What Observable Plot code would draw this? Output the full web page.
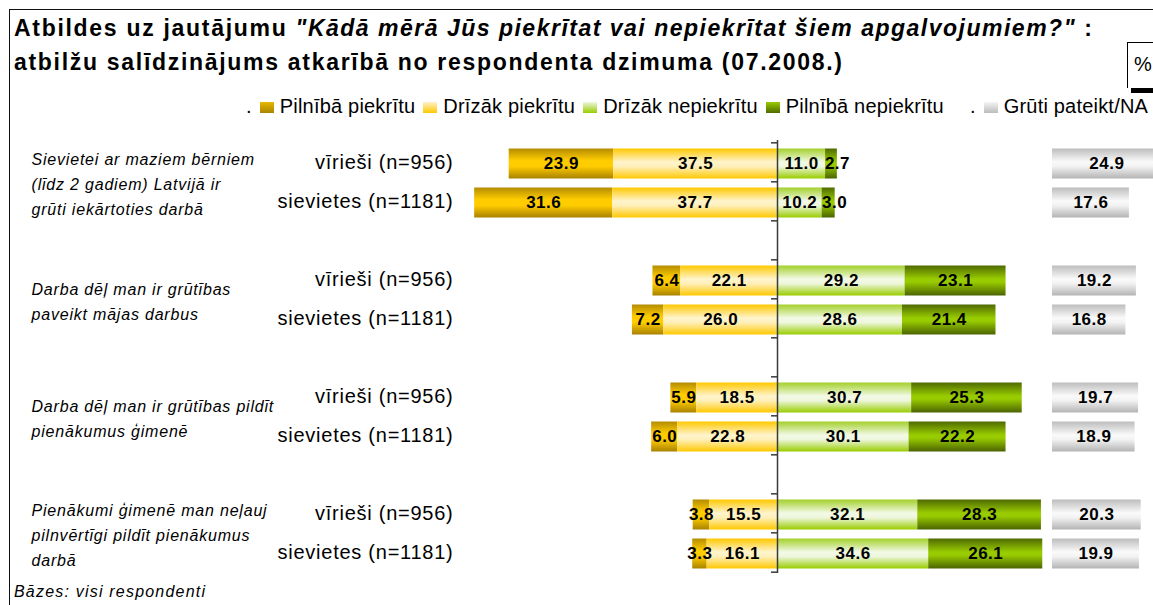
<!DOCTYPE html>
<html><head><meta charset="utf-8">
<script src="https://cdn.jsdelivr.net/npm/d3@7"></script>
<script src="https://cdn.jsdelivr.net/npm/@observablehq/plot@0.6"></script>
<style>
html,body{margin:0;padding:0;background:#fff;overflow:hidden;}
#wrap{position:relative;width:1153px;height:605px;overflow:hidden;background:#fff;font-family:"Liberation Sans",Arial,Helvetica,sans-serif;color:#000;}
#frame{position:absolute;left:9px;top:9px;width:1300px;height:700px;border-top:1.5px solid #111;border-left:1.5px solid #111;}
#title{position:absolute;left:14px;top:11px;font-size:23px;font-weight:bold;line-height:34px;letter-spacing:1.7px;white-space:nowrap;}
#title i{font-style:italic;letter-spacing:1.5px;}
#pct{position:absolute;left:1127px;top:42px;width:40px;height:46px;border-left:1px solid #000;border-top:1px solid #000;font-size:20px;line-height:42px;padding-left:6px;box-sizing:border-box;}
#pctshadow{position:absolute;left:1131px;top:88px;width:40px;height:5px;background:#000;}
#legend{position:absolute;left:246px;top:92px;height:28px;display:flex;align-items:center;font-size:20px;letter-spacing:0.2px;white-space:nowrap;}
#legend .sw{width:14px;height:11px;margin-top:3px;flex:none;}
#legend .dot{margin-right:8px;}
#legend .lab{margin-left:6px;margin-right:8px;}
#main{position:absolute;left:0;top:121px;width:1045px;}
#na{position:absolute;left:1045px;top:121px;width:130px;}
#main svg,#na svg{max-width:none;}
#foot{position:absolute;left:14px;top:583px;font-size:16px;font-style:italic;letter-spacing:1.2px;line-height:18px;white-space:nowrap;}
#defs{position:absolute;width:0;height:0;}
#main g[font-size="20"] text{letter-spacing:0.75px;}
#main g[font-style="italic"] text{letter-spacing:0.8px;}
g[font-weight="bold"] text{letter-spacing:0.5px;}
</style></head><body>
<div id="wrap">
  <div id="frame"></div>
  <div id="title"></div>
  <div id="pct">%</div><div id="pctshadow"></div>
  <div id="legend"></div>
  <div id="main"></div>
  <div id="na"></div>
  <div id="foot"></div>
</div>
<svg id="defs" width="0" height="0"><defs id="gdefs"></defs></svg>
<script>
// ---------- data ----------
const titleStart = "Atbildes uz jautājumu ";
const titleQuote = "\"Kādā mērā Jūs piekrītat vai nepiekrītat šiem apgalvojumiem?\"";
const titleEnd = " :";
const titleLine2 = "atbilžu salīdzinājums atkarībā no respondenta dzimuma (07.2008.)";
const footnote = "Bāzes: visi respondenti";
const unitLabel = "%";

const categories = ["Pilnībā piekrītu", "Drīzāk piekrītu", "Drīzāk nepiekrītu", "Pilnībā nepiekrītu"];
const naCategory = "Grūti pateikt/NA";

const statements = [
  "Sievietei ar maziem bērniem\n(līdz 2 gadiem) Latvijā ir\ngrūti iekārtoties darbā",
  "Darba dēļ man ir grūtības\npaveikt mājas darbus",
  "Darba dēļ man ir grūtības pildīt\npienākumus ģimenē",
  "Pienākumi ģimenē man neļauj\npilnvērtīgi pildīt pienākumus\ndarbā"
];
const respondentGroups = ["vīrieši (n=956)", "sievietes (n=1181)"];

// order: statement 1 (men, women), statement 2 (men, women), ...
const fullyAgree     = [23.9, 31.6,  6.4,  7.2,  5.9,  6.0,  3.8,  3.3];
const ratherAgree    = [37.5, 37.7, 22.1, 26.0, 18.5, 22.8, 15.5, 16.1];
const ratherDisagree = [11.0, 10.2, 29.2, 28.6, 30.7, 30.1, 32.1, 34.6];
const fullyDisagree  = [ 2.7,  3.0, 23.1, 21.4, 25.3, 22.2, 28.3, 26.1];
const hardToSay      = [24.9, 17.6, 19.2, 16.8, 19.7, 18.9, 20.3, 19.9];

// ---------- styling ----------
const gradients = [
  {id: "g0", stops: [[0, "#b48c00"], [0.4, "#ffcc00"], [0.6, "#ffcc00"], [1, "#a88200"]]},
  {id: "g1", stops: [[0, "#ffc800"], [0.45, "#fff4cc"], [0.6, "#fff0bb"], [1, "#ffc800"]]},
  {id: "g2", stops: [[0, "#a3d02a"], [0.45, "#f2f9e6"], [0.6, "#eef7dd"], [1, "#99cc00"]]},
  {id: "g3", stops: [[0, "#4f6a00"], [0.45, "#99cc00"], [0.55, "#99cc00"], [1, "#4b6400"]]},
  {id: "g4", stops: [[0, "#bdbdbd"], [0.45, "#fafafa"], [0.6, "#f2f2f2"], [1, "#b4b4b4"]]}
];
const swatchCss = [
  "linear-gradient(#e8b800,#a88400)",
  "linear-gradient(#fff2c8,#ffc800)",
  "linear-gradient(#eef7e0,#99cc00)",
  "linear-gradient(#99cc00,#4f6a00)",
  "linear-gradient(#f4f4f4,#bcbcbc)"
];
const FONT = "Liberation Sans, Arial, Helvetica, sans-serif";

// gradient defs
const gdefs = d3.select("#gdefs");
gradients.forEach(g => {
  const lg = gdefs.append("linearGradient").attr("id", g.id)
    .attr("x1", 0).attr("y1", 0).attr("x2", 0).attr("y2", 1);
  g.stops.forEach(([o, c]) => lg.append("stop").attr("offset", o).attr("stop-color", c));
});

// title / footnote / legend
const t = document.getElementById("title");
t.append(titleStart);
const it = document.createElement("i"); it.textContent = titleQuote; t.append(it);
t.append(titleEnd);
t.append(document.createElement("br"));
t.append(titleLine2);
document.getElementById("foot").textContent = footnote;
document.getElementById("pct").textContent = unitLabel;

const legend = document.getElementById("legend");
function addDot(ml) { const d = document.createElement("span"); d.className = "dot"; d.textContent = "."; if (ml) d.style.marginLeft = ml + "px"; legend.append(d); }
function addItem(name, css) {
  const sw = document.createElement("span"); sw.className = "sw"; sw.style.background = css; legend.append(sw);
  const lb = document.createElement("span"); lb.className = "lab"; lb.textContent = name; legend.append(lb);
}
addDot();
categories.forEach((c, i) => addItem(c, swatchCss[i]));
addDot(18);
addItem(naCategory, swatchCss[4]);

// ---------- layout ----------
const zeroX = 777, pxPerPct = 4.37;
const mainW = 1045, mainLeft = 460, H = 470, mT = 19, mB = 18;
const nSlots = statements.length * 3 - 1;
const step = (H - mT - mB) / nSlots;

const slotDomain = statements.flatMap((_, s) =>
  s < statements.length - 1 ? [`${s}-0`, `${s}-1`, `gap${s}`] : [`${s}-0`, `${s}-1`]);

const rows = [];
statements.forEach((st, s) => respondentGroups.forEach((g, gi) => {
  const i = s * respondentGroups.length + gi;
  rows.push({key: `${s}-${gi}`, label: g, i});
}));

const segs = [];
rows.forEach(r => {
  const fa = fullyAgree[r.i], ra = ratherAgree[r.i], rd = ratherDisagree[r.i], fd = fullyDisagree[r.i];
  segs.push({key: r.key, cat: 0, x1: -(fa + ra), x2: -ra, v: fa});
  segs.push({key: r.key, cat: 1, x1: -ra, x2: 0, v: ra});
  segs.push({key: r.key, cat: 2, x1: 0, x2: rd, v: rd});
  segs.push({key: r.key, cat: 3, x1: rd, x2: rd + fd, v: fd});
});
const naRows = rows.map(r => ({key: r.key, v: hardToSay[r.i]}));
const groupLabels = statements.map((st, s) => ({key: `${s}-0`, text: st}));

const yScale = () => ({type: "band", domain: slotDomain, paddingInner: 0.236, paddingOuter: 0.118, axis: null});
const barDy = 1.5;
// narrow outer segments on the right: label nudged outward like the original
const labelDx = d => (d.cat === 3 && d.v < 5 ? 6 : 0);

const main = Plot.plot({
  width: mainW, height: H,
  marginLeft: mainLeft, marginRight: 0, marginTop: mT, marginBottom: mB,
  style: {fontFamily: FONT, background: "transparent", overflow: "visible", color: "#000"},
  x: {domain: [(mainLeft - zeroX) / pxPerPct, (mainW - zeroX) / pxPerPct], axis: null},
  y: yScale(),
  marks: [
    ...categories.map((c, ci) => Plot.barX(segs.filter(d => d.cat === ci), {
      x1: "x1", x2: "x2", y: "key", fill: `url(#g${ci})`, dy: barDy
    })),
    Plot.text(segs.filter(d => labelDx(d) === 0), {x: d => (d.x1 + d.x2) / 2, y: "key", text: d => d.v.toFixed(1),
      fontWeight: "bold", fontSize: 17, fill: "#000", dy: barDy}),
    Plot.text(segs.filter(d => labelDx(d) !== 0), {x: d => (d.x1 + d.x2) / 2, y: "key", text: d => d.v.toFixed(1),
      fontWeight: "bold", fontSize: 17, fill: "#000", dy: barDy, dx: 6}),
    Plot.ruleX([0], {stroke: "#3a3a3a", strokeWidth: 1.5}),
    Plot.ruleY(slotDomain, {y: d => d, x1: -6 / pxPerPct, x2: 0, dy: -step / 2, stroke: "#3a3a3a", strokeWidth: 1.5}),
    Plot.ruleY(slotDomain.slice(-1), {y: d => d, x1: -6 / pxPerPct, x2: 0, dy: step / 2, stroke: "#3a3a3a", strokeWidth: 1.5}),
    Plot.text(rows, {y: "key", text: "label", frameAnchor: "left", textAnchor: "end", dx: -7,
      fontSize: 20, fill: "#000"}),
    Plot.text(groupLabels, {y: "key", text: "text", frameAnchor: "left", textAnchor: "start",
      dx: 31 - mainLeft, dy: step / 2, fontSize: 16, fontStyle: "italic", lineHeight: 25 / 16,
      fill: "#000"})
  ]
});
document.getElementById("main").append(main);

const naW = 130, naLeft = 7;
const na = Plot.plot({
  width: naW, height: H,
  marginLeft: naLeft, marginRight: 0, marginTop: mT, marginBottom: mB,
  style: {fontFamily: FONT, background: "transparent", overflow: "visible", color: "#000"},
  x: {domain: [0, (naW - naLeft) / pxPerPct], axis: null},
  y: yScale(),
  marks: [
    Plot.barX(naRows, {x1: 0, x2: "v", y: "key", fill: "url(#g4)", dy: barDy}),
    Plot.text(naRows, {x: d => d.v / 2, y: "key", text: d => d.v.toFixed(1),
      fontWeight: "bold", fontSize: 17, fill: "#000", dy: barDy})
  ]
});
document.getElementById("na").append(na);
</script>
</body></html>
